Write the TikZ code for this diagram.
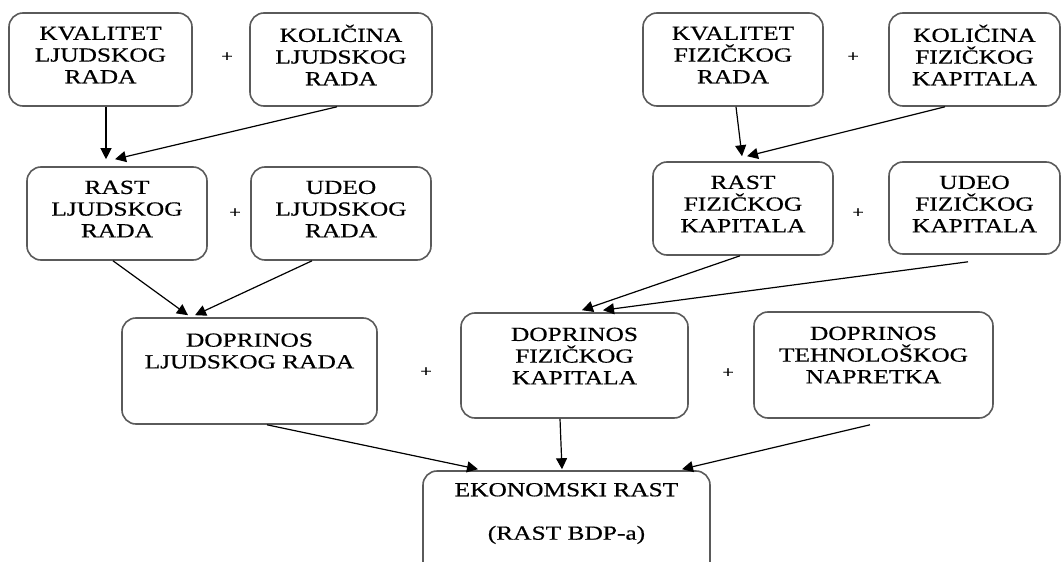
\documentclass[tikz,border=0pt]{standalone}
\usepackage{fontspec}
\setmainfont{Liberation Serif}[FakeStretch=1.27,FakeBold=0.5]
\usetikzlibrary{arrows.meta}
\definecolor{boxgray}{HTML}{5A5A5A}
\tikzset{
  box/.style={draw=boxgray, line width=1.6pt, rounded corners=14pt, inner sep=0pt, fill=white},
  txt/.style={font=\fontsize{20}{21.7}\selectfont, align=center, inner sep=0pt, text=black},
  plus/.style={font=\fontsize{16}{18}\selectfont, inner sep=0pt},
  arr/.style={draw=black, line width=1.2pt, -{Triangle[length=11pt,width=11pt]}}
}
\begin{document}
\begin{tikzpicture}[x=1pt,y=-1pt]
\useasboundingbox (0,0) rectangle (1061,562);
\clip (0,0) rectangle (1061,562);
\fill[white] (0,0) rectangle (1061,562);
% row 1
\node[box, minimum width=183pt, minimum height=93pt] (b11) at (100.5,59.5) {};
\node[box, minimum width=182pt, minimum height=93pt] (b12) at (341,59.5) {};
\node[box, minimum width=180pt, minimum height=93pt] (b13) at (733,59.5) {};
\node[box, minimum width=171pt, minimum height=93pt] (b14) at (974.5,59.5) {};
% row 2
\node[box, minimum width=180pt, minimum height=93pt] (b21) at (117,213.5) {};
\node[box, minimum width=180pt, minimum height=93pt] (b22) at (341,213.5) {};
\node[box, minimum width=180pt, minimum height=93pt] (b23) at (743,208.5) {};
\node[box, minimum width=171pt, minimum height=92pt] (b24) at (974.5,208) {};
% row 3
\node[box, minimum width=255pt, minimum height=106pt] (b31) at (249.5,371) {};
\node[box, minimum width=227pt, minimum height=105pt] (b32) at (574.5,365.5) {};
\node[box, minimum width=239pt, minimum height=106pt] (b33) at (873.5,365) {};
% row 4
\node[box, minimum width=287pt, minimum height=109pt] (b41) at (566.5,525.5) {};
% texts
\node[txt] (t11) at (100.5,55) {KVALITET\\LJUDSKOG\\RADA};
\node[txt] (t12) at (341,55) {KOLIČINA\\LJUDSKOG\\RADA};
\node[txt] (t13) at (733,55) {KVALITET\\FIZIČKOG\\RADA};
\node[txt] (t14) at (974.5,55) {KOLIČINA\\FIZIČKOG\\KAPITALA};
\node[txt] (t21) at (117,209) {RAST\\LJUDSKOG\\RADA};
\node[txt] (t22) at (341,209) {UDEO\\LJUDSKOG\\RADA};
\node[txt] (t23) at (743,204) {RAST\\FIZIČKOG\\KAPITALA};
\node[txt] (t24) at (974.5,204) {UDEO\\FIZIČKOG\\KAPITALA};
\node[txt] (t31) at (249.5,351) {DOPRINOS\\LJUDSKOG RADA};
\node[txt] (t32) at (574.5,356) {DOPRINOS\\FIZIČKOG\\KAPITALA};
\node[txt] (t33) at (873.5,355) {DOPRINOS\\TEHNOLOŠKOG\\NAPRETKA};
\node[txt] (t41) at (566.5,513.5) {EKONOMSKI RAST\\[21.7pt](RAST BDP-a)};
% plus signs
\node[plus] (p1) at (227,57) {+};
\node[plus] (p2) at (853,57) {+};
\node[plus] (p3) at (235,213) {+};
\node[plus] (p4) at (858,213) {+};
\node[plus] (p5) at (426,372) {+};
\node[plus] (p6) at (728,373) {+};
% connectors
\draw[arr] ([xshift=5.5pt]b11.south) -- ([xshift=-11pt,yshift=7pt]b21.north);
\draw[arr] ([xshift=-4pt]b12.south) -- ([xshift=-2pt,yshift=7pt]b21.north);
\draw[arr] ([xshift=3pt]b13.south) -- ([xshift=-1pt,yshift=5pt]b23.north);
\draw[arr] ([xshift=-29.5pt]b14.south) -- ([xshift=4pt,yshift=5pt]b23.north);
\draw[arr] ([xshift=-4pt]b21.south) -- ([xshift=-61.5pt,yshift=2pt]b31.north);
\draw[arr] ([xshift=-29pt]b22.south) -- ([xshift=-54.5pt,yshift=2pt]b31.north);
\draw[arr] ([xshift=-3pt]b23.south) -- ([xshift=7.5pt,yshift=2pt]b32.north);
\draw[arr] ([xshift=-6.5pt,yshift=-7pt]b24.south) -- ([xshift=28.5pt,yshift=2pt]b32.north);
\draw[arr] ([xshift=17.5pt]b31.south) -- ([xshift=-88.5pt,yshift=1pt]b41.north);
\draw[arr] ([xshift=-14.5pt]b32.south) -- ([xshift=-4.5pt,yshift=1pt]b41.north);
\draw[arr] ([xshift=-3.5pt,yshift=-6pt]b33.south) -- ([xshift=115.5pt,yshift=1pt]b41.north);
\end{tikzpicture}
\end{document}
